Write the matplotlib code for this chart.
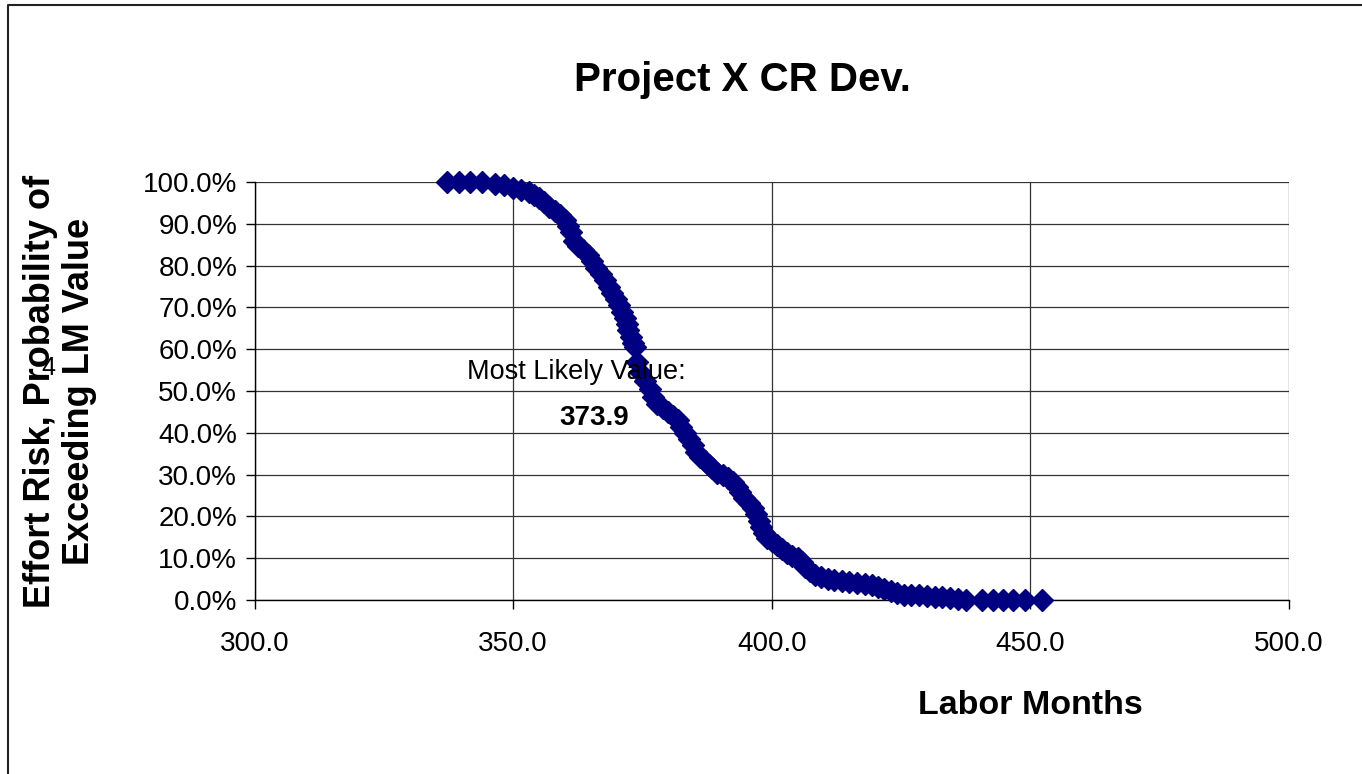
import matplotlib.pyplot as plt
from matplotlib.lines import Line2D
from matplotlib.ticker import FuncFormatter

plt.rcParams['font.family'] = ['Liberation Sans', 'DejaVu Sans']

# Labor months vs. probability of exceeding (percent)
labor_months = [
    337.3, 339.6, 341.7, 344.0, 346.5, 348.3, 350.0, 351.5, 353.0, 354.0,
    355.0, 356.0, 357.0, 358.0, 359.0, 360.0, 360.6, 361.2, 361.8, 362.5,
    363.5, 364.5, 365.3, 366.0, 367.0, 367.8, 368.5, 369.2, 369.8, 370.4,
    371.0, 371.6, 372.0, 372.3, 372.7, 373.2, 373.6, 374.0, 374.5, 375.5,
    376.5, 377.0, 377.8, 379.0, 380.0, 381.0, 381.8, 382.5, 383.3, 384.0,
    384.7, 385.4, 386.2, 387.0, 387.8, 388.5, 389.5, 390.5, 391.5, 392.5,
    393.2, 393.8, 394.7, 395.6, 396.4, 397.0, 397.5, 398.0, 398.5, 399.0,
    400.0, 401.0, 402.0, 403.0, 404.0, 405.0, 405.8, 406.5, 407.3, 408.3,
    409.5, 410.8, 412.0, 413.5, 415.0, 416.5, 418.0, 419.3, 420.5, 421.7,
    423.0, 424.3, 425.5, 427.0, 428.5, 430.0, 431.5, 433.0, 434.5, 436.0,
    437.5, 440.7, 442.8, 444.8, 446.7, 449.0, 452.3,
]
exceed_pct = [
    100.0, 100.0, 100.0, 100.0, 99.6, 99.3, 98.5, 98.2, 97.6, 97.0,
    96.2, 95.2, 94.0, 93.0, 92.0, 90.8, 89.5, 88.0, 86.0, 84.8,
    83.8, 82.5, 81.0, 79.5, 78.0, 76.5, 75.0, 73.5, 72.0, 70.5,
    69.0, 67.5, 66.0, 64.5, 63.0, 61.5, 60.5, 57.0, 54.5, 52.5,
    50.5, 48.5, 47.0, 46.0, 45.0, 44.0, 43.0, 41.5, 40.0, 38.5,
    37.0, 35.5, 34.3, 33.3, 32.2, 31.5, 30.5, 30.0, 29.3, 28.3,
    27.0, 25.8, 24.5, 23.2, 22.0, 20.5, 19.0, 17.5, 16.0, 14.8,
    14.0, 13.2, 12.2, 11.2, 10.6, 10.0, 9.0, 8.0, 7.0, 6.0,
    5.4, 5.0, 4.8, 4.6, 4.3, 4.1, 3.9, 3.6, 3.1, 2.6,
    2.2, 1.7, 1.3, 1.2, 1.1, 0.9, 0.8, 0.6, 0.5, 0.3,
    0.1, 0.0, 0.0, 0.0, 0.0, 0.0, 0.0,
]
most_likely = 373.9
x_ticks = [300, 350, 400, 450, 500]
y_ticks = [0, 10, 20, 30, 40, 50, 60, 70, 80, 90, 100]

fig = plt.figure(figsize=(13.62, 7.74), dpi=100)
ax = fig.add_axes([254.5 / 1362, 1 - 600 / 774, (1289 - 254.5) / 1362, (600 - 182) / 774])

ax.plot(labor_months, exceed_pct, linestyle='none', marker='D', markersize=11.5,
        color='#000080', clip_on=False, zorder=3)
# short leader line at the most likely value
ax.plot([most_likely, most_likely], [59.3, 55.0], color='#000080', lw=1, zorder=2)

ax.set_xlim(300, 500)
ax.set_ylim(0, 100)
ax.set_xticks(x_ticks)
ax.set_yticks(y_ticks)
ax.xaxis.set_major_formatter(FuncFormatter(lambda v, p: '%.1f' % v))
ax.yaxis.set_major_formatter(FuncFormatter(lambda v, p: '%.1f%%' % v))
ax.tick_params(axis='both', direction='out', length=6.5, width=1, color='black', labelsize=20)
ax.tick_params(axis='x', pad=16)
ax.tick_params(axis='y', pad=6)

ax.grid(True, color='#333333', lw=0.9)
ax.set_axisbelow(True)
for s in ['top', 'right']:
    ax.spines[s].set_visible(False)
for s in ['left', 'bottom']:
    ax.spines[s].set_color('black')
    ax.spines[s].set_linewidth(1)

# annotation
ax.text(341.1, 54.5, 'Most Likely Value:', fontsize=19.5, ha='left', va='center')
ax.text(365.7, 43.5, '%.1f' % most_likely, fontsize=20, fontweight='bold', ha='center', va='center')

# titles
fig.text(742 / 1362, 1 - 80 / 774, 'Project X CR Dev.', fontsize=29, fontweight='bold',
         ha='center', va='center')
fig.text(1030 / 1362, 1 - 706 / 774, 'Labor Months', fontsize=24.5, fontweight='bold',
         ha='center', va='center')
fig.text(60 / 1362, 1 - 391 / 774, 'Effort Risk, Probability of\nExceeding LM Value',
         fontsize=26, fontweight='bold', rotation=90, ha='center', va='center',
         multialignment='center', linespacing=1.15)
fig.text(48 / 1362, 1 - 368 / 774, '4', fontsize=18, ha='center', va='center')

# outer chart frame (left and top edges visible)
fig.add_artist(Line2D([8 / 1362, 8 / 1362, 1], [0, 1 - 5 / 774, 1 - 5 / 774],
                      transform=fig.transFigure, color='#222222', lw=1.5))

fig.savefig('out.png', dpi=100)
